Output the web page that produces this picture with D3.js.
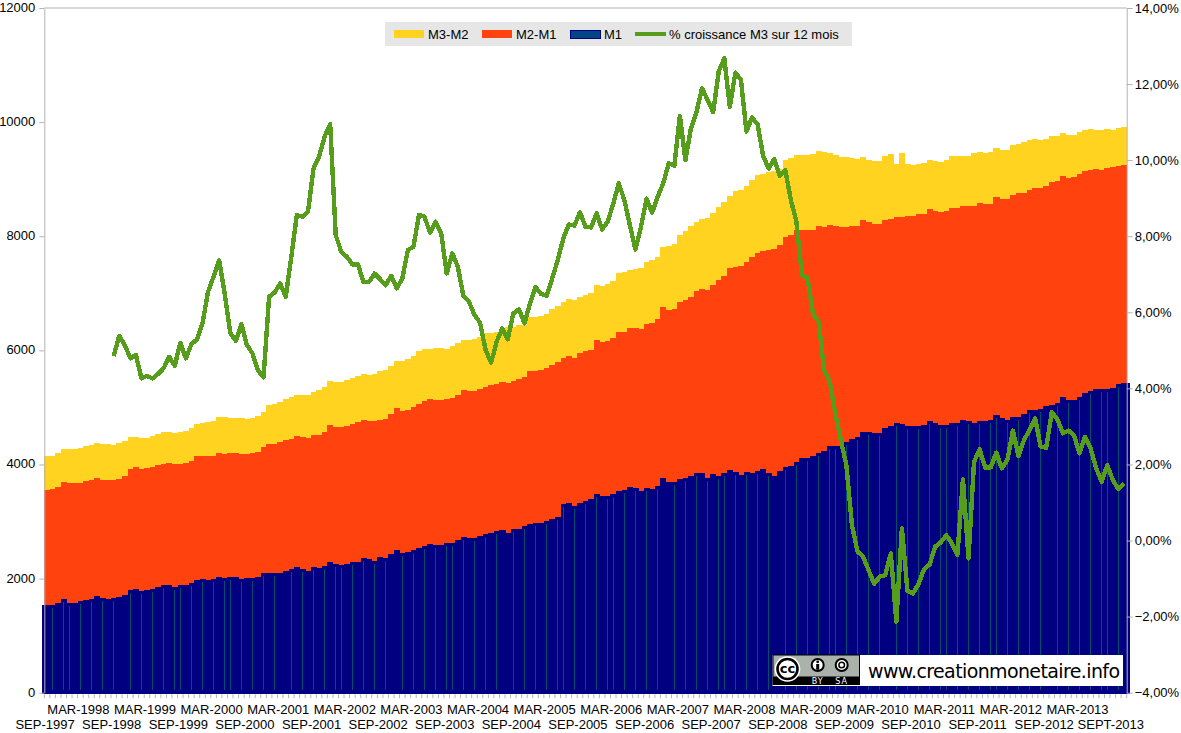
<!DOCTYPE html>
<html>
<head>
<meta charset="utf-8">
<script src="https://cdn.jsdelivr.net/npm/d3@7"></script>
<style>
    html, body {margin: 0; padding: 0; background: #fff;}
    svg {display: block;}
    text {font-family: "Liberation Sans", sans-serif; fill: #000;}
</style>
</head>
<body>
<svg id="chart" width="1181" height="733"></svg>
<script>
// monthly, SEP-1997 .. NOV-2013
const m1Values = [
    1536,1536,1577,1642,1577,1577,1607,1624,1642,1694,1665,1642,1659,1677,1712,1799,1817,1782,1799,1817,1852,1887,1887,1852,
    1887,1887,1922,1975,1992,1969,1992,2027,2010,2027,2027,1992,2010,2010,2027,2097,2097,2097,2097,2132,2167,2202,2167,2132,
    2202,2185,2220,2290,2255,2237,2255,2290,2290,2360,2343,2308,2378,2360,2430,2500,
    2442,2459,2495,2530,2565,2600,2582,2582,2617,2617,2670,2722,2705,2705,2740,2775,2792,2828,2845,2792,2863,2863,2915,2950,
    2968,2968,3003,3038,3073,3301,3318,3266,3318,3353,3388,3476,3441,3441,3476,3529,3546,3599,3581,3529,3581,3564,3616,3756,
    3686,3686,3739,3756,3791,3844,3844,3756,3827,3791,3844,3897,3862,3809,3862,3844,3879,3914,3844,3791,3879,3949,3967,4037,
    4107,4107,4142,4195,4235,4323,4323,4323,4393,4446,4481,4568,4568,4551,4551,4638,4674,4726,4709,4674,4674,4674,4691,4761,
    4726,4691,4691,4726,4726,4779,4761,4726,4761,4761,4779,4866,4814,4779,4831,4831,4884,4954,4954,4972,5024,5042,5077,5182,
    5129,5129,5182,5252,5287,5322,5322,5322,5340,5410,5427
];
const m2Values = [
    3552,3569,3605,3692,3675,3675,3675,3710,3727,3762,3727,3727,3727,3745,3797,3920,3955,3920,3937,3955,3990,4008,4025,4008,
    4008,4025,4060,4148,4148,4148,4148,4200,4183,4200,4200,4183,4183,4200,4218,4306,4358,4358,4393,4428,4446,4498,4481,4463,
    4516,4516,4568,4691,4656,4656,4674,4709,4744,4779,4761,4761,4779,4796,4884,4989,
    4936,4954,5007,5059,5112,5147,5129,5129,5147,5164,5217,5304,5287,5287,5322,5357,5392,5410,5445,5427,5462,
    5491,5527,5632,5632,5655,5684,5743,5795,5865,5900,5865,5953,5988,6006,6181,6146,6163,6216,6321,6321,6391,6391,6374,6461,
    6479,6549,6759,6707,6724,6847,6882,6934,7040,7075,7057,7145,7232,7303,7443,7460,7478,7548,7635,7706,7741,7758,7776,7846,
    7986,8021,8109,
    8109,8109,8109,8179,8161,8196,8179,8161,8161,8179,8179,8284,8249,8214,8214,8284,8302,8337,8337,8354,8354,8389,8389,8477,
    8442,8424,8442,8494,8494,8529,8529,8529,8582,8564,8564,8687,8652,8652,8722,8757,8757,8810,8845,8845,8880,8950,8968,9055,
    9020,9038,9090,9143,9160,9178,9160,9195,9213,9230,9248
];
const m3Values = [
    4148,4148,4200,4271,4271,4271,4288,4323,4341,4376,4358,4358,4341,4376,4411,4481,4481,4463,4463,4498,4533,4568,4568,4551,
    4568,4586,4638,4709,4726,4744,4761,4825,4825,4814,4814,4814,4796,4814,4849,4919,5042,5059,5094,5147,5182,5217,5217,5217,
    5269,5304,5357,5462,5445,5445,5480,5515,5550,5585,5567,5585,5638,5655,5725,5813,
    5813,5848,5900,5988,6023,6023,6041,6041,6023,6076,6128,6181,6181,6198,6233,6298,6309,6327,6356,6414,6414,6444,6444,6584,
    6584,6602,6637,6724,6777,6847,6899,6882,6934,6969,7005,7145,7127,7162,7215,7355,7373,7408,7425,7443,7548,7583,7635,7811,
    7828,7863,8021,8091,8179,8249,8302,8319,8407,8512,8600,8705,8792,8810,8880,8985,9073,9090,9125,9143,9178,9336,9371,9423,
    9423,9423,9435,9493,9476,9458,9423,9388,9388,9371,9353,9382,9336,9318,9318,9406,9441,9265,9458,9265,9248,9265,9283,9336,
    9318,9300,9336,9406,9406,9406,9406,9458,9476,9458,9476,9546,9511,9511,9598,9610,9645,9680,9704,9686,9704,9756,9756,9809,
    9774,9774,9826,9861,9879,9861,9861,9879,9861,9896,9914
];
// % growth of M3 over 12 months, starts at SEP-1998
const growthValues = [
    4.85,5.38,5.14,4.79,4.88,4.26,4.33,4.26,4.38,4.53,4.83,4.59,5.20,4.79,5.16,5.29,5.71,6.54,6.94,7.36,6.50,5.46,5.25,5.69,
    5.14,4.92,4.47,4.29,6.41,6.52,6.76,6.41,7.46,8.56,8.51,8.64,9.78,10.09,10.62,10.95,8.03,7.59,7.46,7.26,7.26,6.80,6.80,7.02,
    6.87,6.71,6.96,6.63,
    6.89,7.64,7.72,8.56,8.51,8.09,8.38,8.08,7.02,7.55,7.20,6.43,6.28,5.93,5.73,5.01,4.68,5.23,5.58,5.29,5.97,6.08,5.71,6.24,
    6.66,6.48,6.44,6.89,7.37,7.94,8.31,8.28,8.63,8.25,8.23,8.60,8.18,8.38,8.86,9.39,8.95,8.29,7.65,8.25,8.99,8.62,9.04,9.39,
    9.92,9.85,11.16,10.00,10.84,11.27,11.89,11.58,11.26,12.33,12.68,11.40,12.30,12.11,10.75,11.12,10.94,10.11,9.78,10.03,
    9.58,9.74,8.95,8.38,
    6.98,6.89,5.95,5.75,4.47,4.18,3.34,2.64,1.98,0.41,-0.29,-0.42,-0.78,-1.14,-0.95,-0.91,-0.34,-2.13,0.32,-1.32,-1.39,-1.14,
    -0.75,-0.63,-0.16,-0.05,0.14,-0.07,-0.38,1.61,-0.47,2.07,2.40,1.92,1.92,2.31,1.90,2.12,2.89,2.22,2.64,2.91,3.21,2.47,2.44,
    3.37,3.19,2.82,2.89,2.77,2.29,2.73,2.42,1.90,1.55,1.98,1.59,1.35,1.50
];
const growthStart = 12;
const septLabels = ["SEP-1997","SEP-1998","SEP-1999","SEP-2000","SEP-2001","SEP-2002","SEP-2003","SEP-2004","SEP-2005",
    "SEP-2006","SEP-2007","SEP-2008","SEP-2009","SEP-2010","SEP-2011","SEP-2012","SEPT-2013"];
const marchLabels = ["MAR-1998","MAR-1999","MAR-2000","MAR-2001","MAR-2002","MAR-2003","MAR-2004","MAR-2005","MAR-2006",
    "MAR-2007","MAR-2008","MAR-2009","MAR-2010","MAR-2011","MAR-2012","MAR-2013"];
const leftTicks = [0,2000,4000,6000,8000,10000,12000];
const rightTicks = [-4,-2,0,2,4,6,8,10,12,14];

const margin = {top: 8, right: 54.3, bottom: 40.3, left: 44.3};
const width = 1181, height = 733;
const grey = "#b3b3b3";
const yellow = "#ffd320", orange = "#ff420e", navy = "#000080", blue = "#004586", green = "#579d1c";

const svg = d3.select("#chart");

const x = d3.scaleBand()
    .domain(d3.range(m1Values.length))
    .range([margin.left, width - margin.right]);
const step = x.bandwidth();
const y = d3.scaleLinear().domain([0, 12000]).range([height - margin.bottom, margin.top]);
const yRight = d3.scaleLinear().domain([-4, 14]).range([height - margin.bottom, margin.top]);
const baseY = y(0);

// stacked money supply, each band painted to the bottom
function addBars(values, color) {
    svg.append("g")
        .attr("shape-rendering", "crispEdges")
        .selectAll("rect")
        .data(values)
        .join("rect")
        .attr("x", (d, i) => x(i))
        .attr("y", d => y(d))
        .attr("width", (d, i) => i === values.length - 1 ? step : step + 0.5)
        .attr("height", d => baseY - y(d))
        .attr("fill", color);
}
addBars(m3Values, yellow);
addBars(m2Values, orange);

// M1: thick navy outline, only a sliver of fill is left inside
const m1 = svg.append("g").attr("shape-rendering", "crispEdges");
m1.selectAll("rect.outline")
    .data(m1Values)
    .join("rect")
    .attr("class", "outline")
    .attr("x", (d, i) => x(i) - (i === 0 ? 2.3 : 0))
    .attr("y", d => y(d))
    .attr("width", (d, i) => step + 0.5 + (i === 0 || i === m1Values.length - 1 ? 2.3 : 0))
    .attr("height", d => baseY + 1.6 - y(d))
    .attr("fill", navy);
m1.selectAll("rect.core")
    .data(m1Values)
    .join("rect")
    .attr("class", "core")
    .attr("x", (d, i) => x(i) + step / 2 - 0.25)
    .attr("y", d => y(d) + 3)
    .attr("width", 0.5)
    .attr("height", d => baseY - 3 - y(d) - 3)
    .attr("fill", "#004f6e");

// axes
function styleAxis(g) {
    g.selectAll(".domain").attr("stroke", grey);
    g.selectAll(".tick line").attr("stroke", grey);
    g.selectAll(".tick text").style("font-size", "13px").style("font-family", '"Liberation Sans", sans-serif');
}
svg.append("g")
    .attr("transform", `translate(${margin.left},0)`)
    .call(d3.axisLeft(y).tickValues(leftTicks).tickFormat(d3.format("d")).tickSize(5).tickSizeOuter(0).tickPadding(4))
    .call(styleAxis)
    .call(g => g.selectAll(".tick text").attr("y", -0.7));
svg.append("g")
    .attr("transform", `translate(${width - margin.right},0)`)
    .call(d3.axisRight(yRight).tickValues(rightTicks)
        .tickFormat(d => d3.format(".2f")(d).replace(".", ",") + "%")
        .tickSize(6).tickSizeOuter(0).tickPadding(2))
    .call(styleAxis);
svg.append("line")
    .attr("x1", margin.left).attr("x2", width - margin.right)
    .attr("y1", margin.top).attr("y2", margin.top)
    .attr("stroke", grey);

// month ticks along the bottom
svg.append("g")
    .selectAll("line")
    .data(d3.range(m1Values.length + 1))
    .join("line")
    .attr("x1", d => margin.left + d * step)
    .attr("x2", d => margin.left + d * step)
    .attr("y1", baseY + 1.6)
    .attr("y2", baseY + 5.5)
    .attr("stroke", grey);

function addMonthLabels(labels, firstMonth, rowY) {
    svg.append("g")
        .selectAll("text")
        .data(labels)
        .join("text")
        .attr("x", (d, i) => x(firstMonth + i * 12) + step / 2 - 2)
        .attr("y", rowY)
        .attr("text-anchor", "middle")
        .style("font-size", "13px")
        .text(d => d);
}
addMonthLabels(marchLabels, 6, 714);
addMonthLabels(septLabels, 0, 729);

// growth line on the right axis
const line = d3.line()
    .x((d, i) => x(growthStart + i) + step / 2)
    .y(d => yRight(d));
svg.append("path")
    .attr("d", line(growthValues))
    .attr("fill", "none")
    .attr("stroke", green)
    .attr("stroke-width", 4.4)
    .attr("stroke-linejoin", "round")
    .attr("shape-rendering", "crispEdges");

// legend
const legend = svg.append("g");
legend.append("rect").attr("x", 385).attr("y", 22).attr("width", 467).attr("height", 24).attr("fill", "#e6e6e6");
legend.append("rect").attr("x", 394).attr("y", 30).attr("width", 30).attr("height", 8).attr("fill", yellow);
legend.append("rect").attr("x", 482).attr("y", 30).attr("width", 30).attr("height", 8).attr("fill", orange);
legend.append("rect").attr("x", 570.5).attr("y", 30.5).attr("width", 30).attr("height", 8)
    .attr("fill", blue).attr("stroke", navy).attr("stroke-width", 1);
legend.append("line").attr("x1", 635).attr("x2", 666).attr("y1", 34).attr("y2", 34)
    .attr("stroke", green).attr("stroke-width", 4);
[["M3-M2", 428], ["M2-M1", 516], ["M1", 604], ["% croissance M3 sur 12 mois", 669]].forEach(d => {
    legend.append("text").attr("x", d[1]).attr("y", 38.5).style("font-size", "13px").text(d[0]);
});

// licence badge and site address
const badge = svg.append("g");
const badgeFont = '"DejaVu Sans", sans-serif';
badge.append("rect").attr("x", 772.5).attr("y", 655).attr("width", 350.5).attr("height", 31).attr("fill", "#fff");
badge.append("rect").attr("x", 772.5).attr("y", 654.5).attr("width", 87.5).attr("height", 30.5).attr("fill", "#000");
badge.append("rect").attr("x", 773.5).attr("y", 655.5).attr("width", 85.5).attr("height", 21).attr("fill", "#aab2ab");
badge.append("circle").attr("cx", 787.5).attr("cy", 669).attr("r", 12.8).attr("fill", "#fff");
badge.append("circle").attr("cx", 787.5).attr("cy", 669).attr("r", 10).attr("fill", "#fff").attr("stroke", "#000").attr("stroke-width", 2.6);
badge.append("text").attr("x", 787.5).attr("y", 673.3).attr("text-anchor", "middle")
    .style("font-size", "13px").style("font-weight", "bold").style("font-family", badgeFont).text("cc");
[817.7, 841.7].forEach(cx => {
    badge.append("circle").attr("cx", cx).attr("cy", 665).attr("r", 6).attr("fill", "#fff").attr("stroke", "#000").attr("stroke-width", 2);
});
badge.append("circle").attr("cx", 817.7).attr("cy", 661.8).attr("r", 1.4).attr("fill", "#000");
badge.append("rect").attr("x", 816.2).attr("y", 664).attr("width", 3).attr("height", 5.8).attr("fill", "#000");
badge.append("circle").attr("cx", 841.7).attr("cy", 665).attr("r", 2.8).attr("fill", "none").attr("stroke", "#000").attr("stroke-width", 1.5);
[["BY", 817.7], ["SA", 841.7]].forEach(d => {
    badge.append("text").attr("x", d[1]).attr("y", 683.5).attr("text-anchor", "middle")
        .style("font-size", "8px").style("letter-spacing", "1px").style("fill", "#fff").style("font-family", badgeFont).text(d[0]);
});
badge.append("text").attr("x", 868).attr("y", 678)
    .style("font-size", "19px").style("font-family", badgeFont)
    .attr("textLength", 252).text("www.creationmonetaire.info");
</script>
</body>
</html>
